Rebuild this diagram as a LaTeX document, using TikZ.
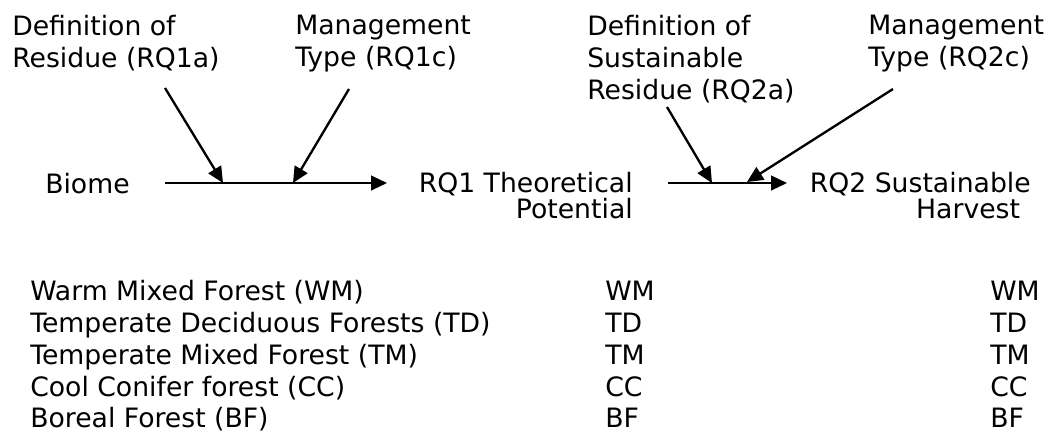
\documentclass[tikz,border=0pt]{standalone}
\usepackage{fontspec}
\setmainfont{DejaVu Sans}
\usetikzlibrary{arrows.meta}

\begin{document}
\begin{tikzpicture}[x=0.75pt, y=-0.75pt,
					every node/.style={inner sep=0pt, font=\fontsize{20pt}{24pt}\selectfont},
					lbl/.style={anchor=north west, align=left},
					mid/.style={anchor=north east, align=right, font=\fontsize{20pt}{19.5pt}\selectfont},
					cell/.style={anchor=base west},
					flow/.style={line width=1.75pt, -{Triangle[length=12pt,width=11pt]}}]
					\useasboundingbox (0,0) rectangle (1053,432);
					% inputs
					\node[lbl] (defres) at (12,15) {Definition of\\Residue (RQ1a)};
					\node[lbl] (mantype) at (295,15) {Management\\Type (RQ1c)};
					\node[lbl] (defsus) at (587,15) {Definition of\\Sustainable\\Residue (RQ2a)};
					\node[lbl] (mantwo) at (868,15) {Management\\Type (RQ2c)};
					% main chain
					\node[cell] (biome) at (45,193) {Biome};
					\node[mid] (theo) at (633,172) {RQ1 Theoretical\\Potential};
					\node[mid] (harv) at (1031,172) {RQ2 Sustainable\\Harvest\hspace*{8pt}};
					\coordinate (b1) at (165,183);
					\coordinate (b2) at (387,183);
					\coordinate (c1) at (668,183);
					\coordinate (c2) at (787,183);
					\coordinate (j1) at (223,183);
					\coordinate (j2) at (293,183);
					\coordinate (j3) at (712,183);
					\coordinate (j4) at (747,182);
					\coordinate (t1) at (165,88);
					\coordinate (t2) at (349,89);
					\coordinate (t3) at (667,107);
					\coordinate (t4) at (893,89);
					\draw[flow] (b1) -- (b2);
					\draw[flow] (c1) -- (c2);
					\draw[flow] (t1) -- (j1);
					\draw[flow] (t2) -- (j2);
					\draw[flow] (t3) -- (j3);
					\draw[flow] (t4) -- (j4);
					% biomes
					\node[cell] (wm) at (30,300) {Warm Mixed Forest (WM)};
					\node[cell] (td) at (30,332) {Temperate Deciduous Forests (TD)};
					\node[cell] (tm) at (30,364) {Temperate Mixed Forest (TM)};
					\node[cell] (cc) at (30,396) {Cool Conifer forest (CC)};
					\node[cell] (bf) at (30,427) {Boreal Forest (BF)};
					\node[cell] (wmone) at (605,300) {WM};
					\node[cell] (tdone) at (605,332) {TD};
					\node[cell] (tmone) at (605,364) {TM};
					\node[cell] (ccone) at (605,396) {CC};
					\node[cell] (bfone) at (605,427) {BF};
					\node[cell] (wmtwo) at (990,300) {WM};
					\node[cell] (tdtwo) at (990,332) {TD};
					\node[cell] (tmtwo) at (990,364) {TM};
					\node[cell] (cctwo) at (990,396) {CC};
					\node[cell] (bftwo) at (990,427) {BF};
				\end{tikzpicture}
\end{document}
